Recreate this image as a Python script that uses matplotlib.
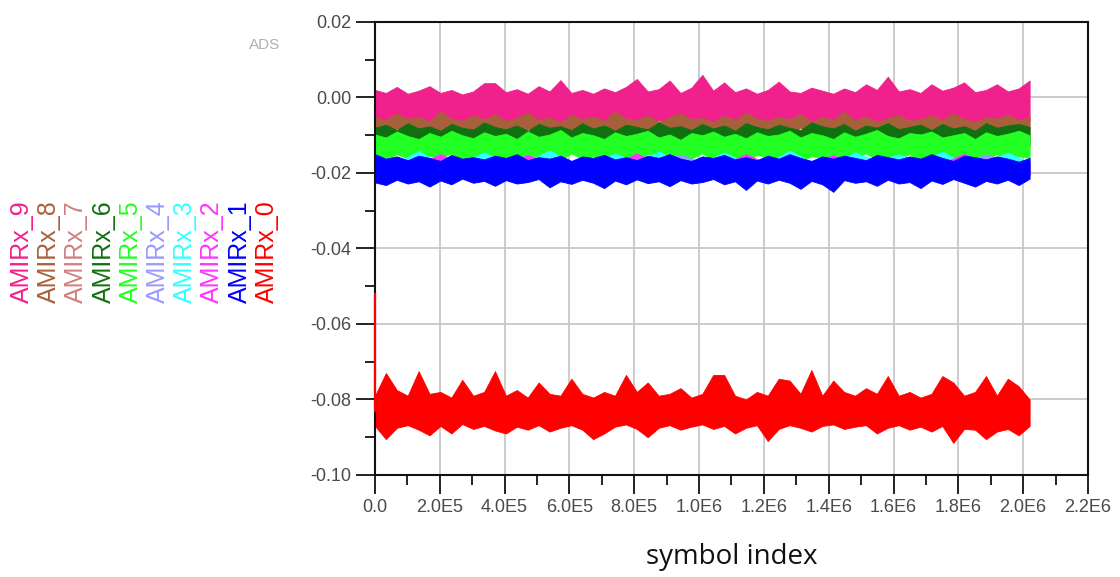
import numpy as np
import matplotlib
matplotlib.use('Agg')
import matplotlib.pyplot as plt
from matplotlib.ticker import MultipleLocator

plt.rcParams['font.family'] = ['Liberation Sans', 'DejaVu Sans']

# last symbol index of every trace
last_symbol = 2.02e6

# envelope (upper / lower) of each noisy trace
pink_hi = [
    0.0020, 0.0012, 0.0028, 0.0010, 0.0018, 0.0030, 0.0012, 0.0020, 0.0008, 0.0016,
    0.0038, 0.0038, 0.0014, 0.0022, 0.0010, 0.0030, 0.0016, 0.0046, 0.0012, 0.0020,
    0.0010, 0.0024, 0.0014, 0.0028, 0.0049, 0.0016, 0.0022, 0.0045, 0.0012, 0.0026,
    0.0060, 0.0018, 0.0040, 0.0014, 0.0024, 0.0010, 0.0020, 0.0042, 0.0016, 0.0012,
    0.0026, 0.0018, 0.0010, 0.0024, 0.0014, 0.0035, 0.0020, 0.0055, 0.0016, 0.0022,
    0.0012, 0.0035, 0.0018, 0.0026, 0.0040, 0.0014, 0.0020, 0.0035, 0.0016, 0.0024,
    0.0045]
pink_lo = [
    -0.0065, -0.0072, -0.0060, -0.0070, -0.0078, -0.0062, -0.0068, -0.0058, -0.0074, -0.0066,
    -0.0060, -0.0072, -0.0064, -0.0080, -0.0062, -0.0068, -0.0058, -0.0070, -0.0064, -0.0076,
    -0.0062, -0.0068, -0.0072, -0.0058, -0.0066, -0.0074, -0.0060, -0.0068, -0.0078, -0.0062,
    -0.0070, -0.0064, -0.0058, -0.0072, -0.0066, -0.0060, -0.0076, -0.0064, -0.0070, -0.0058,
    -0.0068, -0.0074, -0.0062, -0.0066, -0.0072, -0.0058, -0.0070, -0.0064, -0.0078, -0.0060,
    -0.0068, -0.0062, -0.0072, -0.0066, -0.0058, -0.0074, -0.0064, -0.0070, -0.0060, -0.0068,
    -0.0062]

brown_hi = [
    -0.0052, -0.0060, -0.0042, -0.0057, -0.0050, -0.0064, -0.0037, -0.0056, -0.0062, -0.0048,
    -0.0058, -0.0044, -0.0062, -0.0054, -0.0040, -0.0060, -0.0052, -0.0066, -0.0046, -0.0058,
    -0.0050, -0.0062, -0.0038, -0.0056, -0.0060, -0.0048, -0.0064, -0.0052, -0.0042, -0.0058,
    -0.0054, -0.0066, -0.0048, -0.0060, -0.0040, -0.0056, -0.0062, -0.0050, -0.0058, -0.0044,
    -0.0064, -0.0052, -0.0058, -0.0038, -0.0060, -0.0050, -0.0066, -0.0054, -0.0046, -0.0062,
    -0.0056, -0.0048, -0.0060, -0.0042, -0.0058, -0.0064, -0.0052, -0.0056, -0.0046, -0.0060,
    -0.0052]
brown_lo = [
    -0.0088, -0.0095, -0.0082, -0.0090, -0.0100, -0.0085, -0.0092, -0.0080, -0.0096, -0.0087,
    -0.0083, -0.0094, -0.0088, -0.0102, -0.0084, -0.0090, -0.0081, -0.0093, -0.0087, -0.0098,
    -0.0084, -0.0090, -0.0095, -0.0081, -0.0088, -0.0097, -0.0083, -0.0090, -0.0101, -0.0085,
    -0.0092, -0.0086, -0.0080, -0.0095, -0.0088, -0.0083, -0.0099, -0.0086, -0.0092, -0.0081,
    -0.0090, -0.0096, -0.0084, -0.0088, -0.0094, -0.0080, -0.0092, -0.0086, -0.0100, -0.0083,
    -0.0090, -0.0084, -0.0095, -0.0088, -0.0081, -0.0097, -0.0086, -0.0092, -0.0083, -0.0090,
    -0.0086]

rosy_hi = [-0.0092, -0.0096, -0.0093, -0.0097, -0.0092, -0.0095, -0.0093, -0.0096, -0.0092, -0.0094, -0.0093]
rosy_lo = [-0.0114, -0.0110, -0.0116, -0.0111, -0.0115, -0.0109, -0.0114, -0.0112, -0.0116, -0.0110, -0.0113]

dkgreen_hi = [
    -0.0080, -0.0072, -0.0086, -0.0068, -0.0082, -0.0076, -0.0088, -0.0070, -0.0080, -0.0085,
    -0.0066, -0.0078, -0.0084, -0.0074, -0.0088, -0.0070, -0.0080, -0.0076, -0.0086, -0.0068,
    -0.0082, -0.0074, -0.0088, -0.0072, -0.0078, -0.0084, -0.0066, -0.0080, -0.0076, -0.0086,
    -0.0070, -0.0082, -0.0074, -0.0088, -0.0068, -0.0078, -0.0084, -0.0072, -0.0080, -0.0086,
    -0.0066, -0.0076, -0.0082, -0.0070, -0.0088, -0.0074, -0.0080, -0.0068, -0.0084, -0.0078,
    -0.0072, -0.0086, -0.0070, -0.0082, -0.0076, -0.0088, -0.0068, -0.0080, -0.0074, -0.0070,
    -0.0078]
dkgreen_lo = [
    -0.0125, -0.0132, -0.0120, -0.0128, -0.0136, -0.0122, -0.0130, -0.0118, -0.0134, -0.0124,
    -0.0129, -0.0121, -0.0135, -0.0126, -0.0119, -0.0131, -0.0124, -0.0138, -0.0122, -0.0128,
    -0.0133, -0.0120, -0.0127, -0.0135, -0.0123, -0.0130, -0.0118, -0.0132, -0.0125, -0.0137,
    -0.0128, -0.0121, -0.0134, -0.0126, -0.0119, -0.0131, -0.0123, -0.0136, -0.0122, -0.0129,
    -0.0133, -0.0120, -0.0127, -0.0135, -0.0124, -0.0130, -0.0118, -0.0132, -0.0126, -0.0137,
    -0.0121, -0.0128, -0.0134, -0.0123, -0.0130, -0.0119, -0.0135, -0.0125, -0.0131, -0.0122,
    -0.0128]

lime_hi = [
    -0.0098, -0.0106, -0.0090, -0.0102, -0.0110, -0.0094, -0.0104, -0.0088, -0.0100, -0.0108,
    -0.0092, -0.0102, -0.0096, -0.0110, -0.0090, -0.0104, -0.0098, -0.0086, -0.0106, -0.0094,
    -0.0100, -0.0110, -0.0092, -0.0102, -0.0096, -0.0088, -0.0106, -0.0098, -0.0112, -0.0094,
    -0.0100, -0.0090, -0.0104, -0.0096, -0.0108, -0.0092, -0.0102, -0.0098, -0.0088, -0.0106,
    -0.0094, -0.0100, -0.0110, -0.0092, -0.0104, -0.0096, -0.0086, -0.0102, -0.0108, -0.0094,
    -0.0098, -0.0090, -0.0106, -0.0100, -0.0094, -0.0110, -0.0092, -0.0102, -0.0096, -0.0088,
    -0.0100]
lime_lo = [
    -0.0158, -0.0166, -0.0150, -0.0162, -0.0172, -0.0154, -0.0160, -0.0148, -0.0168, -0.0156,
    -0.0152, -0.0164, -0.0158, -0.0174, -0.0150, -0.0160, -0.0154, -0.0166, -0.0148, -0.0162,
    -0.0156, -0.0170, -0.0152, -0.0160, -0.0164, -0.0150, -0.0158, -0.0176, -0.0154, -0.0162,
    -0.0148, -0.0166, -0.0156, -0.0160, -0.0170, -0.0152, -0.0158, -0.0164, -0.0150, -0.0168,
    -0.0156, -0.0160, -0.0152, -0.0174, -0.0158, -0.0148, -0.0164, -0.0156, -0.0162, -0.0150,
    -0.0170, -0.0154, -0.0160, -0.0166, -0.0152, -0.0158, -0.0164, -0.0150, -0.0172, -0.0156,
    -0.0160]

lavender_hi = [
    -0.0168, -0.0172, -0.0150, -0.0170, -0.0174, -0.0169, -0.0173, -0.0152, -0.0171, -0.0168,
    -0.0174, -0.0170, -0.0172, -0.0169, -0.0151, -0.0173, -0.0170, -0.0168, -0.0174, -0.0171,
    -0.0169, -0.0153, -0.0172, -0.0170, -0.0174, -0.0168, -0.0171, -0.0173, -0.0150, -0.0170,
    -0.0172]
lavender_lo = [
    -0.0195, -0.0201, -0.0192, -0.0198, -0.0204, -0.0194, -0.0200, -0.0191, -0.0203, -0.0196,
    -0.0193, -0.0202, -0.0197, -0.0190, -0.0205, -0.0195, -0.0199, -0.0192, -0.0203, -0.0196,
    -0.0191, -0.0200, -0.0195, -0.0204, -0.0193, -0.0198, -0.0190, -0.0202, -0.0196, -0.0192,
    -0.0197]

cyan_hi = [
    -0.0150, -0.0172, -0.0142, -0.0174, -0.0171, -0.0145, -0.0173, -0.0170, -0.0140, -0.0172,
    -0.0174, -0.0148, -0.0171, -0.0143, -0.0173, -0.0170, -0.0146, -0.0172, -0.0174, -0.0141,
    -0.0171, -0.0173, -0.0145, -0.0170, -0.0150, -0.0172, -0.0143, -0.0174, -0.0171, -0.0146,
    -0.0172]
cyan_lo = [
    -0.0198, -0.0205, -0.0194, -0.0202, -0.0208, -0.0196, -0.0203, -0.0192, -0.0206, -0.0199,
    -0.0195, -0.0204, -0.0200, -0.0193, -0.0207, -0.0197, -0.0202, -0.0195, -0.0205, -0.0199,
    -0.0194, -0.0203, -0.0198, -0.0206, -0.0196, -0.0201, -0.0193, -0.0204, -0.0199, -0.0195,
    -0.0200]

magenta_hi = [
    -0.0175, -0.0178, -0.0174, -0.0150, -0.0177, -0.0175, -0.0179, -0.0152, -0.0176, -0.0174,
    -0.0178, -0.0175, -0.0148, -0.0177, -0.0174, -0.0179, -0.0176, -0.0150, -0.0175, -0.0178,
    -0.0174, -0.0153, -0.0177, -0.0175, -0.0179, -0.0176, -0.0174, -0.0149, -0.0178, -0.0175,
    -0.0177]
magenta_lo = [
    -0.0205, -0.0211, -0.0201, -0.0208, -0.0214, -0.0203, -0.0209, -0.0199, -0.0212, -0.0206,
    -0.0202, -0.0210, -0.0205, -0.0200, -0.0213, -0.0204, -0.0208, -0.0201, -0.0211, -0.0206,
    -0.0200, -0.0209, -0.0204, -0.0212, -0.0202, -0.0207, -0.0199, -0.0210, -0.0205, -0.0201,
    -0.0206]

blue_hi = [
    -0.0150, -0.0162, -0.0156, -0.0166, -0.0154, -0.0160, -0.0168, -0.0152, -0.0162, -0.0158,
    -0.0164, -0.0154, -0.0160, -0.0150, -0.0166, -0.0158, -0.0162, -0.0154, -0.0168, -0.0156,
    -0.0160, -0.0152, -0.0164, -0.0158, -0.0166, -0.0154, -0.0160, -0.0150, -0.0162, -0.0168,
    -0.0156, -0.0160, -0.0152, -0.0164, -0.0158, -0.0166, -0.0154, -0.0162, -0.0150, -0.0160,
    -0.0168, -0.0156, -0.0162, -0.0154, -0.0160, -0.0166, -0.0152, -0.0158, -0.0164, -0.0156,
    -0.0162, -0.0150, -0.0160, -0.0168, -0.0154, -0.0158, -0.0164, -0.0156, -0.0162, -0.0170,
    -0.0160]
blue_lo = [
    -0.0225, -0.0232, -0.0218, -0.0228, -0.0222, -0.0236, -0.0220, -0.0230, -0.0215, -0.0226,
    -0.0221, -0.0234, -0.0219, -0.0228, -0.0224, -0.0216, -0.0238, -0.0222, -0.0229, -0.0218,
    -0.0226, -0.0240, -0.0220, -0.0230, -0.0217, -0.0227, -0.0222, -0.0235, -0.0219, -0.0228,
    -0.0224, -0.0216, -0.0230, -0.0222, -0.0245, -0.0220, -0.0228, -0.0218, -0.0226, -0.0242,
    -0.0221, -0.0230, -0.0250, -0.0219, -0.0226, -0.0222, -0.0234, -0.0218, -0.0228, -0.0224,
    -0.0240, -0.0220, -0.0229, -0.0216, -0.0226, -0.0236, -0.0221, -0.0228, -0.0218, -0.0232,
    -0.0215]

red_hi = [
    -0.0790, -0.0730, -0.0775, -0.0790, -0.0725, -0.0785, -0.0780, -0.0795, -0.0748, -0.0790,
    -0.0780, -0.0725, -0.0790, -0.0775, -0.0795, -0.0755, -0.0785, -0.0790, -0.0745, -0.0785,
    -0.0795, -0.0780, -0.0790, -0.0735, -0.0780, -0.0755, -0.0790, -0.0785, -0.0770, -0.0795,
    -0.0785, -0.0735, -0.0735, -0.0790, -0.0800, -0.0780, -0.0790, -0.0745, -0.0750, -0.0785,
    -0.0722, -0.0790, -0.0750, -0.0780, -0.0790, -0.0770, -0.0785, -0.0738, -0.0790, -0.0780,
    -0.0795, -0.0785, -0.0738, -0.0755, -0.0790, -0.0780, -0.0738, -0.0790, -0.0745, -0.0765,
    -0.0800]
red_lo = [
    -0.0870, -0.0905, -0.0875, -0.0868, -0.0880, -0.0895, -0.0870, -0.0890, -0.0865, -0.0878,
    -0.0870, -0.0882, -0.0890, -0.0872, -0.0880, -0.0868, -0.0885, -0.0875, -0.0868, -0.0880,
    -0.0905, -0.0890, -0.0872, -0.0866, -0.0878, -0.0900, -0.0875, -0.0868, -0.0880, -0.0872,
    -0.0866, -0.0878, -0.0870, -0.0890, -0.0875, -0.0868, -0.0910, -0.0878, -0.0868, -0.0875,
    -0.0885, -0.0870, -0.0866, -0.0878, -0.0872, -0.0868, -0.0890, -0.0875, -0.0868, -0.0880,
    -0.0872, -0.0885, -0.0870, -0.0915, -0.0878, -0.0880, -0.0905, -0.0885, -0.0878, -0.0895,
    -0.0870]
# start-up transient of AMIRx_0 at symbol 0
red_start_x = [0.0, 0.0]
red_start_y = [-0.052, -0.083]

trace_names = ['AMIRx_9', 'AMIRx_8', 'AMIRx_7', 'AMIRx_6', 'AMIRx_5',
               'AMIRx_4', 'AMIRx_3', 'AMIRx_2', 'AMIRx_1', 'AMIRx_0']
trace_colors = ['#f0208c', '#a8603c', '#d08080', '#107010', '#22ff22',
                '#9999ff', '#33ffff', '#ff33ff', '#0000ff', '#ff0000']
trace_hi = [pink_hi, brown_hi, rosy_hi, dkgreen_hi, lime_hi,
            lavender_hi, cyan_hi, magenta_hi, blue_hi, red_hi]
trace_lo = [pink_lo, brown_lo, rosy_lo, dkgreen_lo, lime_lo,
            lavender_lo, cyan_lo, magenta_lo, blue_lo, red_lo]

x_ticks = [0, 2e5, 4e5, 6e5, 8e5, 1e6, 1.2e6, 1.4e6, 1.6e6, 1.8e6, 2e6, 2.2e6]
x_tick_labels = ['0.0', '2.0E5', '4.0E5', '6.0E5', '8.0E5', '1.0E6',
                 '1.2E6', '1.4E6', '1.6E6', '1.8E6', '2.0E6', '2.2E6']
y_ticks = [0.02, 0.0, -0.02, -0.04, -0.06, -0.08, -0.10]
y_tick_labels = ['0.02', '0.00', '-0.02', '-0.04', '-0.06', '-0.08', '-0.10']


def plotTraces():
    fig = plt.figure(figsize=(11.2, 5.77), dpi=100)
    ax = fig.add_axes([0.3348, 0.1768, 0.6366, 0.7851])

    # AMIRx_9 first, AMIRx_0 last (drawn on top)
    for hi, lo, col in zip(trace_hi, trace_lo, trace_colors):
        x = np.linspace(0, last_symbol, len(hi))
        ax.fill_between(x, lo, hi, color=col, lw=0.6, zorder=2)
    ax.plot(red_start_x, red_start_y, color='#ff0000', lw=1.6, zorder=3, clip_on=False)

    ax.set_xlim(0, 2.2e6)
    ax.set_ylim(-0.10, 0.02)
    ax.set_xticks(x_ticks)
    ax.set_xticklabels(x_tick_labels)
    ax.set_yticks(y_ticks)
    ax.set_yticklabels(y_tick_labels)
    ax.xaxis.set_minor_locator(MultipleLocator(1e5))
    ax.yaxis.set_minor_locator(MultipleLocator(0.01))
    ax.tick_params(which='major', direction='out', length=14, width=1.4, color='#222222',
                   labelsize=13, labelcolor='#4a4a4a', pad=3)
    ax.tick_params(which='minor', direction='out', length=7, width=1.4, color='#222222')
    ax.set_axisbelow(True)
    ax.grid(True, which='major', color='#c8c8c8', lw=1.3)
    for sp in ax.spines.values():
        sp.set_linewidth(1.5)
        sp.set_color('#111111')

    ax.set_xlabel('symbol index', family=['Open Sans', 'DejaVu Sans'], fontsize=20,
                  color='#111111', labelpad=20)

    # rotated legend on the left
    for i, (name, col) in enumerate(zip(trace_names, trace_colors)):
        fig.text((22 + 27.2 * i) / 1120, 1 - 303 / 577, name, color=col, fontsize=18,
                 rotation=90, ha='center', va='bottom')
    fig.text(265 / 1120, 1 - 45 / 577, 'ADS', color='#b0b0b0', fontsize=11,
             ha='center', va='center')

    fig.savefig('out.png', dpi=100)


if __name__ == '__main__':
    plotTraces()
